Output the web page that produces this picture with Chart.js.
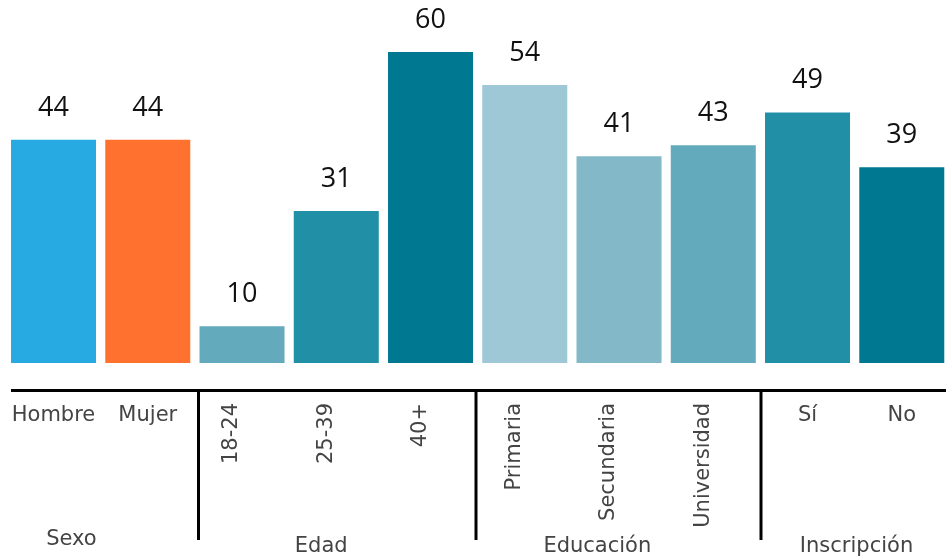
<!DOCTYPE html>
<html>
<head>
<meta charset="utf-8">
<script src="https://cdn.jsdelivr.net/npm/chart.js@4/dist/chart.umd.min.js"></script>
<style>
  html, body { margin: 0; padding: 0; overflow: hidden; background: #fff; }
  #wrap { width: 950px; height: 559px; }
</style>
</head>
<body>
<div id="wrap"><canvas id="chart" width="950" height="559"></canvas></div>
<script>
// ── Data ─────────────────────────────────────────────
const labels = ['Hombre', 'Mujer', '18-24', '25-39', '40+', 'Primaria', 'Secundaria', 'Universidad', 'Sí', 'No'];
const values = [44, 44, 10, 31, 60, 54, 41, 43, 49, 39];
const barColors = ['#27aae1', '#fe712e', '#63aabd', '#2190a6', '#007891', '#9ec8d6', '#82b8c8', '#63aabd', '#2190a6', '#007891'];
const rotatedLabel = [false, false, true, true, true, true, true, true, false, false];
const groupNames = ['Sexo', 'Edad', 'Educación', 'Inscripción'];
const groupBreaks = [1, 4, 7];            // separator after these bar indexes
const groupLabelPos = [0.19, 2.84, 5.77, 8.52];

const FONT = "'DejaVu Sans', sans-serif";
const sepNudge = [4, -1.5, 1.5];

// ── Value labels, axis line, category + group labels ──
const decor = {
  id: 'decor',
  afterDatasetsDraw(chart) {
    const { ctx } = chart;
    const x = chart.scales.x;
    const meta = chart.getDatasetMeta(0);
    ctx.save();

    // values above bars
    ctx.fillStyle = '#111';
    ctx.font = "27px 'Open Sans', sans-serif";
    ctx.textAlign = 'center';
    ctx.textBaseline = 'alphabetic';
    meta.data.forEach((bar, i) => ctx.fillText(values[i], bar.x, bar.y - 24));

    // axis line
    ctx.strokeStyle = '#000';
    ctx.lineWidth = 3;
    ctx.beginPath();
    ctx.moveTo(11, 390.5);
    ctx.lineTo(946, 390.5);
    ctx.stroke();

    // group separators
    groupBreaks.forEach((i, k) => {
      const sx = Math.round((x.getPixelForValue(i) + x.getPixelForValue(i + 1)) / 2) + sepNudge[k] - 0.5;
      ctx.beginPath();
      ctx.moveTo(sx, 392);
      ctx.lineTo(sx, 540);
      ctx.stroke();
    });

    // category labels
    ctx.fillStyle = '#444';
    ctx.font = '21px ' + FONT;
    labels.forEach((lab, i) => {
      const cx = x.getPixelForValue(i);
      if (rotatedLabel[i]) {
        ctx.save();
        ctx.translate(cx - 10, 403);
        ctx.rotate(-Math.PI / 2);
        ctx.textAlign = 'right';
        ctx.textBaseline = 'middle';
        ctx.fillText(lab, 0, 0);
        ctx.restore();
      } else {
        ctx.textAlign = 'center';
        ctx.textBaseline = 'alphabetic';
        ctx.fillText(lab, cx, 421);
      }
    });

    // group labels
    ctx.textAlign = 'center';
    ctx.textBaseline = 'middle';
    groupNames.forEach((g, i) => {
      const p = groupLabelPos[i];
      const base = Math.floor(p);
      const gx = x.getPixelForValue(base) + (p - base) * (x.getPixelForValue(1) - x.getPixelForValue(0));
      ctx.fillText(g, gx, i === 0 ? 540 : 547);
    });

    ctx.restore();
  }
};

// ── Chart ────────────────────────────────────────────
new Chart(document.getElementById('chart'), {
  type: 'bar',
  data: {
    labels: labels,
    datasets: [{ data: values, backgroundColor: barColors, borderWidth: 0, barPercentage: 0.902, categoryPercentage: 1 }]
  },
  options: {
    responsive: false,
    animation: false,
    layout: { padding: { left: 6.4, right: 1.1, top: 0, bottom: 0 } },
    plugins: { legend: { display: false }, tooltip: { enabled: false } },
    scales: {
      x: {
        grid: { display: false },
        border: { display: false },
        ticks: { display: false },
        afterFit: s => { s.height = 196; }
      },
      y: { display: false, min: 3.3, max: 69.5 }
    }
  },
  plugins: [decor]
});
</script>
</body>
</html>
